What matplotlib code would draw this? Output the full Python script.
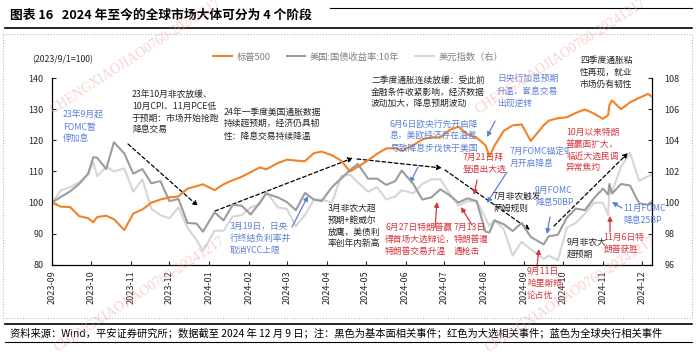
import matplotlib.pyplot as plt
import pandas as pd
from matplotlib.lines import Line2D
from matplotlib.patches import FancyArrowPatch

plt.rcParams['font.family'] = ['Noto Sans CJK SC', 'DejaVu Sans']
plt.rcParams['axes.unicode_minus'] = False

# weekly points (2023/9/1 = 100)
dates = [
    '2023-09-01', '2023-09-08', '2023-09-15', '2023-09-22', '2023-09-29',
    '2023-10-03', '2023-10-06', '2023-10-13', '2023-10-19', '2023-10-27',
    '2023-11-03', '2023-11-10', '2023-11-17', '2023-11-24', '2023-12-01',
    '2023-12-08', '2023-12-15', '2023-12-22', '2023-12-27', '2024-01-05',
    '2024-01-12', '2024-01-19', '2024-01-26', '2024-02-02', '2024-02-09',
    '2024-02-14', '2024-02-23', '2024-03-01', '2024-03-08', '2024-03-15',
    '2024-03-22', '2024-03-28', '2024-04-05', '2024-04-12', '2024-04-19',
    '2024-04-25', '2024-05-03', '2024-05-10', '2024-05-17', '2024-05-24',
    '2024-05-29', '2024-06-07', '2024-06-14', '2024-06-21', '2024-06-28',
    '2024-07-05', '2024-07-12', '2024-07-19', '2024-07-26', '2024-08-02',
    '2024-08-05', '2024-08-09', '2024-08-16', '2024-08-23', '2024-08-30',
    '2024-09-06', '2024-09-16', '2024-09-20', '2024-09-27', '2024-10-04',
    '2024-10-11', '2024-10-18', '2024-10-25', '2024-11-01', '2024-11-05',
    '2024-11-06', '2024-11-08', '2024-11-15', '2024-11-22', '2024-11-29',
    '2024-12-06', '2024-12-09',
]

spx = [
    100.0, 98.7, 98.6, 95.7, 95.0,
    93.7, 95.4, 95.8, 94.7, 91.2,
    96.5, 97.8, 100.0, 101.0, 101.7,
    102.0, 104.5, 105.3, 105.9, 104.0,
    105.9, 107.2, 108.3, 109.8, 111.3,
    110.7, 112.7, 113.8, 113.5, 113.3,
    115.9, 116.4, 115.2, 113.5, 110.0,
    111.5, 113.6, 115.7, 117.4, 117.5,
    116.6, 118.4, 120.3, 121.0, 120.9,
    123.3, 124.4, 121.9, 120.9, 118.4,
    114.8, 118.3, 123.0, 124.8, 125.1,
    119.8, 124.8, 126.3, 127.1, 127.4,
    128.8, 129.9, 128.6, 126.9, 128.1,
    131.3, 132.8, 130.0, 132.2, 133.6,
    134.9, 134.0,
]

ust10y = [
    100.0, 101.9, 103.6, 106.0, 109.3,
    114.6, 114.4, 110.8, 119.4, 115.8,
    109.3, 110.8, 106.2, 106.9, 100.5,
    101.2, 93.5, 93.3, 90.7, 96.9,
    94.3, 99.3, 99.0, 96.2, 100.0,
    102.9, 101.7, 100.2, 97.6, 103.1,
    101.0, 100.5, 105.0, 107.7, 110.5,
    112.4, 107.7, 107.7, 105.7, 106.9,
    110.3, 106.0, 101.0, 101.7, 104.3,
    102.4, 100.0, 101.4, 100.5, 90.7,
    90.4, 94.3, 93.1, 90.9, 93.5,
    89.0, 86.6, 89.2, 89.7, 95.2,
    98.1, 97.6, 101.4, 104.5, 102.6,
    106.0, 102.9, 106.0, 105.5, 99.8,
    99.3, 100.5,
]

dxy = [
    100.0, 100.8, 101.0, 101.3, 101.8,
    102.6, 101.7, 102.3, 102.0, 102.2,
    100.7, 101.5, 99.6, 99.2, 99.0,
    99.7, 98.4, 97.6, 96.9, 98.2,
    98.2, 99.1, 99.2, 99.7, 99.9,
    100.7, 99.7, 99.6, 98.5, 99.2,
    100.2, 100.2, 100.0, 101.7, 101.8,
    101.3, 100.7, 101.0, 100.2, 100.4,
    100.8, 100.6, 101.2, 101.5, 101.5,
    100.6, 99.8, 100.1, 100.1, 99.0,
    98.5, 98.9, 98.3, 96.6, 97.5,
    97.0, 96.4, 96.6, 96.3, 98.4,
    98.7, 99.3, 100.0, 100.0, 99.2,
    100.8, 100.7, 102.3, 103.2, 101.4,
    101.7, 101.8,
]

series_names = ['标普500', '美国:国债收益率:10年', '美元指数（右）']
left_ticks = [80, 90, 100, 110, 120, 130, 140]
right_ticks = [96, 98, 100, 102, 104, 106, 108]
month_ticks = pd.date_range('2023-09-01', '2024-12-01', freq='MS')

ORANGE = '#F08228'
DARK = '#9C9C9C'
LIGHT = '#D6D6D6'
BLUE = '#5B80D6'
RED = '#D8343C'
BLACK = '#262626'

W, H = 700, 352


def fx(x):
    return x / W


def fy(y):
    return 1 - y / H


fig = plt.figure(figsize=(7, 3.52), dpi=100)
ax = fig.add_axes([fx(52), fy(265), 600 / W, 187 / H])
ax2 = ax.twinx()

d = pd.to_datetime(dates)
ax2.plot(d, dxy, color=LIGHT, lw=1.5)
ax.plot(d, ust10y, color=DARK, lw=1.5)
ax.plot(d, spx, color=ORANGE, lw=1.5)
ax.set_zorder(ax2.get_zorder() + 1)
ax.patch.set_visible(False)

ax.set_xlim(pd.Timestamp('2023-09-01'), pd.Timestamp('2024-12-09'))
ax.set_ylim(80, 140)
ax2.set_ylim(96, 108)
ax.set_yticks(left_ticks)
ax2.set_yticks(right_ticks)
ax.set_xticks(month_ticks)
ax.set_xticklabels([t.strftime('%Y-%m') for t in month_ticks], rotation=90)

ax.tick_params(axis='x', direction='in', length=3, labelsize=6.5, colors=BLACK, pad=4)
ax.tick_params(axis='y', direction='in', length=3, labelsize=6.5, colors=BLACK, pad=6)
ax2.tick_params(axis='y', direction='in', length=3, labelsize=6.5, colors=BLACK, pad=9)

for a in (ax, ax2):
    a.spines['top'].set_visible(False)
    for s in a.spines.values():
        s.set_linewidth(0.9)
ax.spines['right'].set_visible(False)
ax2.spines['left'].set_visible(False)
ax2.spines['bottom'].set_visible(False)

# legend
handles = [Line2D([], [], color=c, lw=1.5) for c in (ORANGE, DARK, LIGHT)]
fig.legend(handles, series_names, loc='center left', bbox_to_anchor=(fx(205), fy(57)),
           ncol=3, frameon=False, fontsize=6.7, handlelength=2.0, handletextpad=0.5,
           columnspacing=1.7, labelcolor='#808080')

fig.text(fx(32), fy(60), '(2023/9/1=100)', fontsize=6.3, color=BLACK, va='center')

# title and frame lines
fig.text(fx(10), fy(15), '图表 16   2024 年至今的全球市场大体可分为 4 个阶段',
         fontsize=9.2, fontweight='bold', va='center', color='black')
fig.add_artist(Line2D([fx(330), fx(692)], [fy(8), fy(8)], color='black', lw=0.8))
fig.add_artist(Line2D([fx(5), fx(692)], [fy(28), fy(28)], color='black', lw=1.2))
frame = dict(color='#BBBBBB', lw=0.8, ls=(0, (1, 1.5)))
fig.add_artist(Line2D([fx(3), fx(692)], [fy(34), fy(34)], **frame))
fig.add_artist(Line2D([fx(3), fx(692)], [fy(318), fy(318)], **frame))
fig.add_artist(Line2D([fx(3), fx(3)], [fy(34), fy(318)], **frame))
fig.add_artist(Line2D([fx(692), fx(692)], [fy(34), fy(318)], **frame))
fig.add_artist(Line2D([fx(5), fx(692)], [fy(324), fy(324)], color='black', lw=1.2))
fig.add_artist(Line2D([fx(5), fx(692)], [fy(342), fy(342)], color='black', lw=0.8))
fig.text(fx(10), fy(333),
         '资料来源：Wind，平安证券研究所；数据截至 2024 年 12 月 9 日；注：黑色为基本面相关事件；'
         '红色为大选相关事件；蓝色为全球央行相关事件',
         fontsize=7.4, va='center', color='black', style='italic')

# annotations (x, top y in pixels)
notes = [
    (63, 111, '23年9月起\nFOMC暂\n停加息', BLUE),
    (132, 90, '23年10月非农放缓、\n10月CPI、11月PCE低\n于预期：市场开始抢跑\n降息交易', BLACK),
    (224, 108, '24年一季度美国通胀数据\n持续超预期，经济仍具韧\n性：降息交易持续降温', BLACK),
    (371, 76, '二季度通胀连续放缓：受此前\n金融条件收紧影响，经济数据\n波动加大，降息预期波动', BLACK),
    (497, 75, '日央行加息预期\n升温，套息交易\n出现逆转', BLUE),
    (580, 56, '四季度通胀粘\n性再现，就业\n市场仍有韧性', BLACK),
    (390, 120, '6月6日欧央行先开启降\n息，美欧经济存在温差\n导致降息步伐快于美国', BLUE),
    (463, 153, '7月21日拜\n登退出大选', RED),
    (510, 147, '7月FOMC锚定9\n月开启降息', BLUE),
    (566, 128, '10月以来特朗\n普赢面扩大，\n临近大选民调\n异常焦灼', RED),
    (493, 192, '7月非农触发\n萨姆规则', BLACK),
    (535, 186, '9月FOMC\n降息50BP', BLUE),
    (623, 204, '11月FOMC\n降息25BP', BLUE),
    (385, 223, '6月27日特朗普赢\n得首场大选辩论，\n特朗普交易升温', RED),
    (454, 223, '7月13日\n特朗普遭\n遇枪击', RED),
    (567, 238, '9月非农大\n超预期', BLACK),
    (603, 233, '11月6日特\n朗普获胜', RED),
    (527, 267, '9月11日\n哈里斯辩\n论占优', RED),
    (328, 204, '3月非农大超\n预期+鲍威尔\n放鹰，美债利\n率创年内新高', BLACK),
    (230, 222, '3月19日，日央\n行终结负利率并\n取消YCC上限', BLUE),
]
for x, y, s, c in notes:
    fig.text(fx(x), fy(y), s, fontsize=6.3, color=c, va='top', ha='left', linespacing=1.4)

# arrows (start, end in pixels)
dashed = [
    ((128, 144), (198, 206)),
    ((215, 211), (353, 158)),
    ((357, 159), (442, 168)),
    ((445, 170), (530, 230)),
    ((554, 226), (628, 153)),
]
blue_arrows = [
    ((292, 227), (308, 196)),
    ((418, 167), (410, 183)),
    ((495, 121), (487, 137)),
    ((507, 172), (487, 203)),
    ((550, 217), (547, 234)),
    ((622, 208), (612, 202)),
]
red_arrows = [
    ((435, 228), (437, 202)),
    ((472, 225), (461, 207)),
    ((477, 180), (474, 195)),
    ((537, 266), (539, 249)),
    ((610, 232), (610, 216)),
]


def arrow(p0, p1, color, ls='-'):
    fig.add_artist(FancyArrowPatch((fx(p0[0]), fy(p0[1])), (fx(p1[0]), fy(p1[1])),
                                   transform=fig.transFigure, arrowstyle='-|>',
                                   mutation_scale=7, lw=0.9, color=color, linestyle=ls,
                                   shrinkA=0, shrinkB=0))


for p0, p1 in dashed:
    arrow(p0, p1, 'black', (0, (3, 2)))
for p0, p1 in blue_arrows:
    arrow(p0, p1, BLUE)
for p0, p1 in red_arrows:
    arrow(p0, p1, RED)

# watermark
for x, y in [(53, 114), (478, 114), (57, 352), (488, 352)]:
    fig.text(fx(x), fy(y), 'CHENGXIAOJIAO0760-20241217', fontsize=10, color='#F4A3A3',
             alpha=0.5, rotation=33, rotation_mode='anchor', ha='left', va='baseline',
             family=['Liberation Serif', 'DejaVu Serif'])

fig.savefig('out.png', dpi=100)
